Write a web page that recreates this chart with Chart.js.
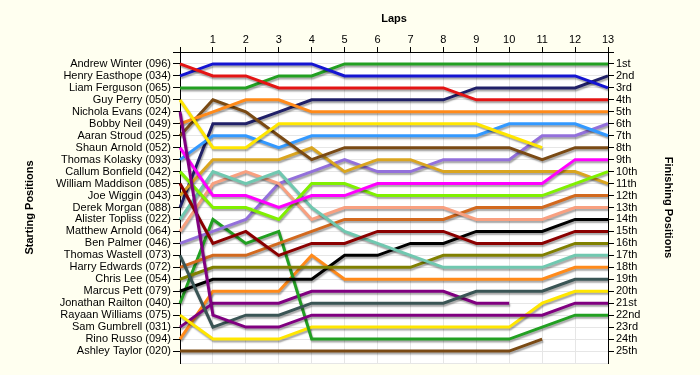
<!DOCTYPE html>
<html>
<head>
<meta charset="utf-8">
<script src="https://cdn.jsdelivr.net/npm/chart.js@4/dist/chart.umd.min.js"></script>
<style>
  html, body { margin: 0; padding: 0; background: #FFFFF0; }
  #wrap { width: 700px; height: 375px; }
</style>
</head>
<body>
<div id="wrap"><canvas id="grafica" width="700" height="375"></canvas></div>
<script>
const laps = [0, 1, 2, 3, 4, 5, 6, 7, 8, 9, 10, 11, 12, 13];

const drivers = [
    'Andrew Winter (096)', 'Henry Easthope (034)', 'Liam Ferguson (065)', 'Guy Perry (050)',
    'Nichola Evans (024)', 'Bobby Neil (049)', 'Aaran Stroud (025)', 'Shaun Arnold (052)',
    'Thomas Kolasky (093)', 'Callum Bonfield (042)', 'William Maddison (085)', 'Joe Wiggin (043)',
    'Derek Morgan (088)', 'Alister Topliss (022)', 'Matthew Arnold (064)', 'Ben Palmer (046)',
    'Thomas Wastell (073)', 'Harry Edwards (072)', 'Chris Lee (054)', 'Marcus Pett (079)',
    'Jonathan Railton (040)', 'Rayaan Williams (075)', 'Sam Gumbrell (031)', 'Rino Russo (094)',
    'Ashley Taylor (020)'
];

const finishLabels = [
    '1st', '2nd', '3rd', '4th', '5th', '6th', '7th', '8th', '9th', '10th', '11th', '12th', '13th',
    '14th', '15th', '16th', '17th', '18th', '19th', '20th', '21st', '22nd', '23rd', '24th', '25th'
];

// posicion en cada vuelta (vuelta 0 = salida), en el mismo orden que drivers
const positions = [
    [1, 2, 2, 3, 3, 3, 3, 3, 3, 4, 4, 4, 4, 4],
    [2, 1, 1, 1, 1, 2, 2, 2, 2, 2, 2, 2, 2, 3],
    [3, 3, 3, 2, 2, 1, 1, 1, 1, 1, 1, 1, 1, 1],
    [4, 8, 8, 6, 6, 6, 6, 6, 6, 6, 7, 8],
    [5, 22, 23, 23, 22, 22, 22, 22, 22, 22, 22, 22, 21, 21],
    [6, 5, 4, 4, 5, 5, 5, 5, 5, 5, 5, 5, 5, 5],
    [7, 4, 5, 7, 9, 8, 8, 8, 8, 8, 8, 9, 8, 8],
    [8, 12, 12, 13, 12, 12, 11, 11, 11, 11, 11, 11, 9, 9],
    [9, 7, 7, 8, 7, 7, 7, 7, 7, 7, 6, 6, 6, 7],
    [10, 13, 13, 14, 11, 11, 12, 12, 12, 12, 12, 12, 11, 10],
    [11, 16, 15, 17, 16, 16, 15, 15, 15, 16, 16, 16, 15, 15],
    [12, 9, 9, 9, 8, 10, 9, 9, 10, 10, 10, 10, 10, 11],
    [13, 6, 6, 5, 4, 4, 4, 4, 4, 3, 3, 3, 3, 2],
    [14, 10, 11, 10, 13, 15, 16, 17, 18, 18, 18, 18, 17, 17],
    [15, 11, 10, 11, 14, 13, 13, 13, 13, 14, 14, 14, 13, 13],
    [16, 15, 14, 11, 10, 9, 10, 10, 9, 9, 9, 7, 7, 6],
    [17, 23, 22, 22, 21, 21, 21, 21, 21, 20, 20, 20, 19, 19],
    [18, 17, 17, 16, 15, 14, 14, 14, 14, 13, 13, 13, 12, 12],
    [19, 18, 18, 18, 18, 18, 18, 18, 17, 17, 17, 17, 16, 16],
    [20, 19, 19, 19, 19, 17, 17, 16, 16, 15, 15, 15, 14, 14],
    [21, 14, 16, 15, 24, 24, 24, 24, 24, 24, 24, 23, 22, 22],
    [22, 24, 24, 24, 23, 23, 23, 23, 23, 23, 23, 21, 20, 20],
    [23, 21, 21, 21, 20, 20, 20, 20, 20, 21, 21],
    [24, 20, 20, 20, 17, 19, 19, 19, 19, 19, 19, 19, 18, 18],
    [25, 25, 25, 25, 25, 25, 25, 25, 25, 25, 25, 24]
];

const colores = [
    '#E41414', '#1414D2', '#22A022', '#FFE600', '#800080', '#FF8A1A', '#7A4A14',
    '#FF00FF', '#3399FF', '#80F000', '#8B0000', '#DAA520', '#202068', '#70C8B0',
    '#F8A080', '#9370DB', '#3A5555', '#D2691E', '#808000', '#000000',
    '#22A022', '#FFE600', '#800080', '#FF8A1A', '#7A4A14'
];

const fuente = { family: 'Liberation Sans, Arial, sans-serif', size: 11 };
const fuenteTitulo = { family: 'Liberation Sans, Arial, sans-serif', size: 11, weight: 'bold' };

// fondo marfil fuera, blanco dentro del area
const fondo = {
    id: 'fondo',
    beforeDraw(chart) {
        const { ctx, chartArea: a } = chart;
        ctx.save();
        ctx.fillStyle = '#FFFFF0';
        ctx.fillRect(0, 0, chart.width, chart.height);
        ctx.fillStyle = '#FFFFFF';
        ctx.fillRect(a.left, a.top, a.right - a.left, a.bottom - a.top);
        ctx.restore();
    }
};

// sombra gris bajo las lineas
const sombra = {
    id: 'sombra',
    beforeDatasetsDraw(chart) {
        const ctx = chart.ctx;
        ctx.save();
        ctx.shadowColor = 'rgba(0,0,0,0.35)';
        ctx.shadowOffsetX = 1;
        ctx.shadowOffsetY = 2;
        ctx.shadowBlur = 1.5;
    },
    afterDatasetsDraw(chart) {
        chart.ctx.restore();
    }
};

const datasets = drivers.map((d, i) => ({
    label: d,
    data: positions[i],
    borderColor: colores[i],
    borderWidth: 3,
    pointRadius: 0,
    tension: 0,
    fill: false,
    yAxisID: 'y'
}));

const marcaColor = c => (c.tick && c.tick.value === 26) ? 'rgba(0,0,0,0)' : '#000';

new Chart(document.getElementById('grafica').getContext('2d'), {
    type: 'line',
    data: { labels: laps, datasets: datasets },
    plugins: [fondo, sombra],
    options: {
        responsive: false,
        animation: false,
        layout: { padding: { left: 0, right: 0, top: 0, bottom: 12 } },
        plugins: { legend: { display: false }, tooltip: { enabled: false } },
        scales: {
            x: {
                position: 'top',
                offset: false,
                afterFit: s => { s.height = 52; },
                ticks: {
                    font: fuente, color: '#000', padding: 0, maxRotation: 0, autoSkip: false,
                    callback: (v, i) => i === 0 ? '' : laps[i]
                },
                grid: { color: '#E6E6E6', tickColor: '#000', tickLength: 5 },
                border: { color: '#000', width: 1 },
                title: { display: true, text: 'Laps', font: fuenteTitulo, color: '#000', padding: { top: 12, bottom: 0 } }
            },
            y: {
                position: 'left',
                min: 0, max: 26, reverse: true,
                afterFit: s => { s.width = 180; },
                ticks: {
                    stepSize: 1, autoSkip: false, font: fuente, color: '#000', padding: 2,
                    callback: v => (v >= 1 && v <= 25) ? drivers[v - 1] : ''
                },
                grid: { color: '#E6E6E6', tickColor: marcaColor, tickLength: 7 },
                border: { color: '#000', width: 1 },
                title: { display: true, text: 'Starting Positions', font: fuenteTitulo, color: '#000', padding: { top: 23, bottom: 0 } }
            },
            y2: {
                position: 'right',
                min: 0, max: 26, reverse: true,
                afterFit: s => { s.width = 92; },
                ticks: {
                    stepSize: 1, autoSkip: false, font: fuente, color: '#000', padding: 2,
                    callback: v => (v >= 1 && v <= 25) ? finishLabels[v - 1] : ''
                },
                grid: { drawOnChartArea: false, tickColor: marcaColor, tickLength: 6 },
                border: { color: '#000', width: 1 },
                title: { display: true, text: 'Finishing Positions', font: fuenteTitulo, color: '#000', padding: { top: 25, bottom: 0 } }
            }
        }
    }
});
</script>
</body>
</html>
